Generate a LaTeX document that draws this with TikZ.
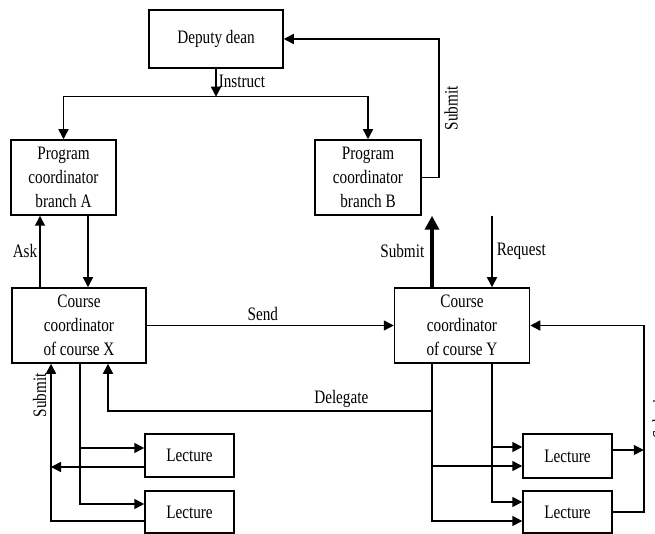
\documentclass[tikz,border=0pt]{standalone}
\usepackage{fontspec}
\setmainfont{Liberation Serif}[FakeStretch=0.8]
\usetikzlibrary{arrows.meta,positioning,calc}

\begin{document}
\begin{tikzpicture}[x=1pt, y=-1pt,
    box/.style={rectangle, draw, line width=1.5pt, inner sep=0pt, align=center, font=\fontsize{19}{24}\selectfont},
    arr/.style={line width=1.5pt, -{Triangle[length=10pt,width=10pt]}},
    lbl/.style={font=\fontsize{19}{20}\selectfont, inner sep=2pt},
]
    \useasboundingbox (0,0) rectangle (655,534);
    \node[box, minimum width=134pt, minimum height=58pt] (dean) at (216,39) {Deputy dean};
    \node[box, minimum width=105pt, minimum height=75pt] (pcA) at (63.5,177.5) {Program\\coordinator\\branch A};
    \node[box, minimum width=106pt, minimum height=75pt] (pcB) at (368,177.5) {Program\\coordinator\\branch B};
    \node[box, minimum width=134pt, minimum height=75pt] (ccX) at (79,325.5) {Course\\coordinator\\of course X};
    \node[box, minimum width=135pt, minimum height=75pt] (ccY) at (462,325.5) {Course\\coordinator\\of course Y};
    \node[box, minimum width=89pt, minimum height=43pt] (lecX1) at (189.5,455.5) {Lecture};
    \node[box, minimum width=89pt, minimum height=42pt] (lecX2) at (189.5,512) {Lecture};
    \node[box, minimum width=89pt, minimum height=44pt] (lecY1) at (567.5,456) {Lecture};
    \node[box, minimum width=89pt, minimum height=42pt] (lecY2) at (567.5,512) {Lecture};

    \coordinate (split) at ($(dean.south)+(0,28)$);
    \draw[arr] (dean.south) -- (split) node[lbl, pos=0.45, right] {Instruct};
    \draw[arr] (split) -| (pcA.north);
    \draw[arr] (split) -| (pcB.north);
    \draw[arr] (pcB.east) -- ++(17,0) |- (dean.east) node[lbl, pos=0.25, rotate=90, anchor=north, inner sep=5pt] {Submit};

    \coordinate (ask) at ($(ccX.north)+(-39,0)$);
    \draw[arr] (ask) -- (ask |- pcA.south) node[lbl, midway, left] {Ask};
    \coordinate (down) at ($(pcA.south)+(24.5,0)$);
    \draw[arr] (down) -- (down |- ccX.north);
    \draw[arr] (ccX.east) -- (ccY.west) node[lbl, pos=0.47, above=2pt] {Send};

    \coordinate (yL) at ($(ccY.north)+(-30,0)$);
    \coordinate (yR) at ($(ccY.north)+(30,0)$);
    \draw[line width=3.5pt, -{Triangle[length=14pt,width=14pt]}] (yL) -- (yL |- pcB.south) node[lbl, midway, left=4pt] {Submit};
    \draw[arr] (yR |- pcB.south) -- (yR) node[lbl, midway, right=2pt] {Request};

    % course Y to lectures
    \coordinate (yl) at ($(ccY.south)+(-30,0)$);
    \coordinate (yr) at ($(ccY.south)+(30,0)$);
    \coordinate (y1a) at ($(lecY1.west)+(0,-9)$);
    \coordinate (y1b) at ($(lecY1.west)+(0,10)$);
    \coordinate (y2a) at ($(lecY2.west)+(0,-10)$);
    \coordinate (y2b) at ($(lecY2.west)+(0,9)$);
    \draw[arr] (yl) |- (y2b);
    \draw[arr] (y1b -| yl) -- (y1b);
    \draw[arr] (yr) |- (y2a);
    \draw[arr] (y1a -| yr) -- (y1a);
    \coordinate (back) at ($(lecY2.east)+(31,0)$);
    \coordinate (y1out) at ($(lecY1.east)+(0,-6)$);
    \draw[arr] (lecY2.east) -- (back) |- (ccY.east);
    \draw[arr] (y1out) -- (y1out -| back);
    \node[lbl, rotate=90] at (659,417) {Submit};

    \coordinate (dlg) at ($(yl)+(0,47)$);
    \draw[arr] (dlg) -| ($(ccX.south)+(29,0)$) node[lbl, pos=0.14, above] {Delegate};

    % course X to lectures
    \coordinate (xd) at ($(ccX.south)+(1,0)$);
    \coordinate (xu) at ($(ccX.south)+(-28,0)$);
    \coordinate (x1a) at ($(lecX1.west)+(0,-7.5)$);
    \coordinate (x1b) at ($(lecX1.west)+(0,11.5)$);
    \coordinate (x2a) at ($(lecX2.west)+(0,-8)$);
    \coordinate (x2b) at ($(lecX2.west)+(0,9)$);
    \draw[arr] (xd) |- (x2a);
    \draw[arr] (x1a -| xd) -- (x1a);
    \draw[arr] (x2b) -| (xu) node[lbl, pos=0.9, rotate=90, anchor=south, inner sep=4pt] {Submit};
    \draw[arr] (x1b) -- (x1b -| xu);
\end{tikzpicture}
\end{document}
